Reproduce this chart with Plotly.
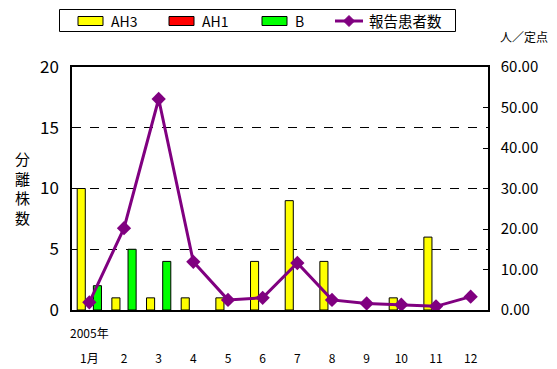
import plotly.graph_objects as go

months = list(range(1, 13))
month_labels = ["1月", "2", "3", "4", "5", "6", "7", "8", "9", "10", "11", "12"]
ah3 = [10, 1, 1, 1, 1, 4, 9, 4, 0, 1, 6, 0]
ah1 = [0, 0, 0, 0, 0, 0, 0, 0, 0, 0, 0, 0]
b_type = [2, 5, 4, 0, 0, 0, 0, 0, 0, 0, 0, 0]
patients = [1.9, 20.2, 52.1, 11.9, 2.5, 3.0, 11.6, 2.5, 1.6, 1.3, 0.9, 3.3]

FONT = "Noto Sans CJK JP"
W, H = 557, 369
ML, MR, MT, MB = 72, 69, 67, 59
PW, PH = W - ML - MR, H - MT - MB

COL_AH3, COL_AH1, COL_B, COL_LINE = "#FFFF00", "#FF0000", "#00FF00", "#800080"


def px_x(x):
    return (x - ML) / PW


def px_y(y):
    return (H - MB - y) / PH


def outline(values):
    # no outline on empty bars, so zero counts leave no mark on the baseline
    return [1 if v > 0 else 0 for v in values]


fig = go.Figure()
fig.add_trace(go.Bar(x=months, y=ah3, name="AH3",
                     marker=dict(color=COL_AH3,
                                 line=dict(color="black", width=outline(ah3)))))
fig.add_trace(go.Bar(x=months, y=ah1, name="AH1",
                     marker=dict(color=COL_AH1,
                                 line=dict(color="black", width=outline(ah1)))))
fig.add_trace(go.Bar(x=months, y=b_type, name="B",
                     marker=dict(color=COL_B,
                                 line=dict(color="black", width=outline(b_type)))))
fig.add_trace(go.Scatter(x=months, y=patients, name="報告患者数", yaxis="y2",
                         mode="lines+markers",
                         line=dict(color=COL_LINE, width=3),
                         marker=dict(symbol="diamond", size=11, color=COL_LINE)))

fig.update_layout(
    width=W, height=H,
    margin=dict(l=ML, r=MR, t=MT, b=MB, autoexpand=False),
    paper_bgcolor="white", plot_bgcolor="white",
    font=dict(family=FONT, color="black", size=13),
    barmode="group", bargap=0.3, bargroupgap=0,
    showlegend=False,
    xaxis=dict(range=[0.5, 12.5], tickmode="array", tickvals=months,
               ticktext=month_labels, showline=True, linecolor="black",
               linewidth=1.5, mirror=True, ticks="outside", ticklen=37,
               tickcolor="rgba(0,0,0,0)", showgrid=False,
               tickfont=dict(size=12)),
    yaxis=dict(range=[0, 20], dtick=5, showline=True, linecolor="black",
               linewidth=1.5, ticks="inside", ticklen=5, tickcolor="black",
               showgrid=True, gridcolor="black", griddash="dash", gridwidth=1,
               zeroline=False, tickfont=dict(size=17), ticklabelstandoff=8),
    yaxis2=dict(range=[0, 60], dtick=10, overlaying="y", side="right",
                tickformat=".2f", showline=True, linecolor="black", linewidth=1.5,
                ticks="inside", ticklen=5, tickcolor="black", showgrid=False,
                zeroline=False, tickfont=dict(size=15), ticklabelstandoff=8),
)

# Legend: framed box across the top with wide colour keys.
fig.add_shape(type="rect", xref="paper", yref="paper",
              x0=px_x(59.5), x1=px_x(455.5), y0=px_y(31.5), y1=px_y(9.5),
              line=dict(color="black", width=1), fillcolor="white")
bar_keys = [("AH3", COL_AH3, 78), ("AH1", COL_AH1, 169), ("B", COL_B, 262)]
for name, col, kx in bar_keys:
    fig.add_shape(type="rect", xref="paper", yref="paper",
                  x0=px_x(kx), x1=px_x(kx + 25), y0=px_y(25.5), y1=px_y(16.5),
                  line=dict(color="black", width=1), fillcolor=col)
    fig.add_annotation(text=name, xref="paper", yref="paper",
                       x=px_x(kx + 31), y=px_y(21), xanchor="left",
                       yanchor="middle", showarrow=False, font=dict(size=14))
fig.add_shape(type="line", xref="paper", yref="paper",
              x0=px_x(335), x1=px_x(363), y0=px_y(21), y1=px_y(21),
              line=dict(color=COL_LINE, width=3))
fig.add_shape(type="path", xref="paper", yref="paper",
              path="M {} {} L {} {} L {} {} L {} {} Z".format(
                  px_x(349), px_y(15.5), px_x(354.5), px_y(21),
                  px_x(349), px_y(26.5), px_x(343.5), px_y(21)),
              line=dict(color=COL_LINE, width=1), fillcolor=COL_LINE)
fig.add_annotation(text="報告患者数", xref="paper", yref="paper",
                   x=px_x(367), y=px_y(21), xanchor="left", yanchor="middle",
                   showarrow=False, font=dict(size=14.5))

# Free text labels, placed by pixel position on the page.
labels = [
    dict(text="分<br>離<br>株<br>数", px=22, py=188, size=15, anchor="center"),
    dict(text="人／定点", px=524, py=36, size=12, anchor="center"),
    dict(text="2005年", px=68, py=332, size=12, anchor="left"),
]
for lab in labels:
    fig.add_annotation(text=lab["text"], xref="paper", yref="paper",
                       x=px_x(lab["px"]), y=px_y(lab["py"]),
                       xanchor=lab["anchor"], yanchor="middle", showarrow=False,
                       font=dict(size=lab["size"]))

fig.write_html("out.html")
